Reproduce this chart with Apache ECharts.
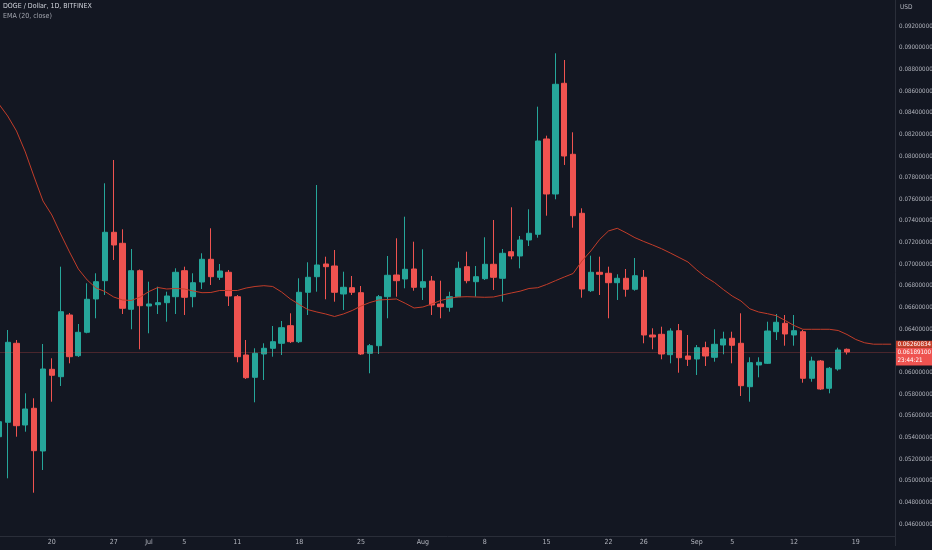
<!DOCTYPE html>
<html>
<head>
<meta charset="utf-8">
<script src="https://cdn.jsdelivr.net/npm/echarts@6/dist/echarts.min.js"></script>
<style>
html,body{margin:0;padding:0;background:#131722;overflow:hidden;}
#chart{width:932px;height:550px;}
</style>
</head>
<body>
<div id="chart"></div>
<script>
// ---- data (DOGE / Dollar, 1D, BITFINEX) ----
const categories = [
'2022-06-14','2022-06-15','2022-06-16','2022-06-17','2022-06-18','2022-06-19','2022-06-20','2022-06-21','2022-06-22','2022-06-23',
'2022-06-24','2022-06-25','2022-06-26','2022-06-27','2022-06-28','2022-06-29','2022-06-30','2022-07-01','2022-07-02','2022-07-03',
'2022-07-04','2022-07-05','2022-07-06','2022-07-07','2022-07-08','2022-07-09','2022-07-10','2022-07-11','2022-07-12','2022-07-13',
'2022-07-14','2022-07-15','2022-07-16','2022-07-17','2022-07-18','2022-07-19','2022-07-20','2022-07-21','2022-07-22','2022-07-23',
'2022-07-24','2022-07-25','2022-07-26','2022-07-27','2022-07-28','2022-07-29','2022-07-30','2022-07-31','2022-08-01','2022-08-02',
'2022-08-03','2022-08-04','2022-08-05','2022-08-06','2022-08-07','2022-08-08','2022-08-09','2022-08-10','2022-08-11','2022-08-12',
'2022-08-13','2022-08-14','2022-08-15','2022-08-16','2022-08-17','2022-08-18','2022-08-19','2022-08-20','2022-08-21','2022-08-22',
'2022-08-23','2022-08-24','2022-08-25','2022-08-26','2022-08-27','2022-08-28','2022-08-29','2022-08-30','2022-08-31','2022-09-01',
'2022-09-02','2022-09-03','2022-09-04','2022-09-05','2022-09-06','2022-09-07','2022-09-08','2022-09-09','2022-09-10','2022-09-11',
'2022-09-12','2022-09-13','2022-09-14','2022-09-15','2022-09-16','2022-09-17','2022-09-18','2022-09-19','2022-09-20','2022-09-21',
'2022-09-22','2022-09-23'
];

const opens = [
0.054063,0.055394,0.062691,0.055144,0.056687,0.052743,0.060289,0.059606,0.065305,0.061546,
0.063707,0.066783,0.068473,0.072944,0.071928,0.065832,0.069397,0.066136,0.066256,0.066441,
0.066995,0.069397,0.066995,0.068353,0.070450,0.068787,0.069249,0.066995,0.061610,0.059550,
0.061703,0.062229,0.062691,0.064317,0.062839,0.067402,0.068843,0.070016,0.069831,0.067245,
0.067827,0.067365,0.061767,0.062469,0.066995,0.069000,0.068630,0.069554,0.067864,0.068446,
0.066321,0.066016,0.066995,0.069767,0.068381,0.068658,0.069988,0.068695,0.071152,0.070755,
0.072233,0.072759,0.081562,0.076482,0.086707,0.080149,0.074699,0.067550,0.069249,0.069157,
0.068289,0.068695,0.067679,0.068787,0.063458,0.063522,0.061638,0.063855,0.061518,0.061241,
0.062285,0.061398,0.062534,0.063153,0.062691,0.058682,0.060687,0.060843,0.063763,0.064538,
0.063458,0.063763,0.059458,0.061056,0.058534,0.060317,0.062137
];

const closes = [
0.055449,0.062783,0.055080,0.056622,0.052770,0.060317,0.059735,0.065610,0.061453,0.063707,
0.066755,0.068381,0.072944,0.071771,0.065924,0.069397,0.066164,0.066321,0.066441,0.067060,
0.069249,0.066940,0.068289,0.070450,0.068843,0.069369,0.067060,0.061453,0.059514,0.061767,
0.062229,0.062839,0.064132,0.062839,0.067402,0.068787,0.069924,0.069767,0.067402,0.067864,
0.067402,0.061703,0.062469,0.066995,0.068972,0.068473,0.069526,0.067864,0.068381,0.066229,
0.066072,0.066995,0.069618,0.068473,0.068843,0.069988,0.068787,0.071004,0.070755,0.072233,
0.072852,0.081377,0.076482,0.086615,0.079992,0.074477,0.067707,0.069249,0.069065,0.068289,
0.068695,0.067679,0.068935,0.063458,0.063273,0.061703,0.063827,0.061360,0.061213,0.062285,
0.061518,0.062599,0.063088,0.062506,0.058775,0.060899,0.060936,0.063827,0.064631,0.063550,
0.063855,0.059458,0.061056,0.058470,0.060382,0.062072,0.061891
];

const lows = [
0.053205,0.050221,0.054063,0.054525,0.048891,0.050988,0.057297,0.058747,0.060843,0.061426,
0.063615,0.065000,0.067152,0.070385,0.065397,0.063984,0.062137,0.063615,0.065397,0.064686,
0.065397,0.065305,0.066016,0.067707,0.068076,0.068538,0.066136,0.060936,0.059393,0.057241,
0.059301,0.061453,0.061610,0.062719,0.062719,0.065305,0.067457,0.066755,0.066534,0.065767,
0.067152,0.061610,0.059920,0.061703,0.065000,0.066995,0.067771,0.067550,0.066691,0.065305,
0.065000,0.065610,0.067032,0.068233,0.066995,0.068538,0.067614,0.066534,0.070450,0.069618,
0.071679,0.072445,0.074477,0.075992,0.079161,0.073369,0.066903,0.067430,0.067152,0.065000,
0.066691,0.066995,0.067550,0.062691,0.062137,0.061213,0.060843,0.059975,0.060594,0.059763,
0.060594,0.060992,0.061675,0.060843,0.057823,0.057297,0.059550,0.060779,0.062996,0.062469,
0.062469,0.059051,0.059144,0.058377,0.058072,0.060160,0.061656
];

const highs = [
0.056345,0.063920,0.062996,0.058072,0.057610,0.062626,0.061305,0.069767,0.065490,0.064474,
0.068233,0.069157,0.077470,0.079622,0.073221,0.071401,0.069508,0.068381,0.067919,0.067457,
0.069618,0.069767,0.069157,0.071004,0.073314,0.070016,0.069462,0.067152,0.062996,0.062229,
0.062691,0.064289,0.064751,0.065462,0.068695,0.070173,0.077313,0.070690,0.071309,0.069305,
0.068907,0.067984,0.062626,0.067152,0.070755,0.072390,0.074385,0.072076,0.071374,0.068907,
0.068473,0.067457,0.070228,0.071152,0.069831,0.072482,0.074080,0.071401,0.075253,0.072602,
0.075069,0.084546,0.081867,0.089478,0.088859,0.082181,0.075161,0.070783,0.070690,0.069767,
0.069065,0.069554,0.070570,0.069462,0.064077,0.064224,0.064077,0.064474,0.063458,0.062534,
0.062839,0.063984,0.063763,0.063763,0.065462,0.061398,0.061398,0.064686,0.065397,0.065305,
0.065305,0.063920,0.061453,0.061148,0.060502,0.062285,0.062211
];

// EMA (20, close)
const emaValues = [
0.084795,0.083687,0.082301,0.080361,0.078052,0.075835,0.074542,0.072787,0.071124,0.069554,
0.068538,0.067799,0.067476,0.066968,0.066691,0.066644,0.066968,0.067476,0.067845,0.067707,
0.067753,0.067707,0.067522,0.067365,0.067383,0.067568,0.067568,0.067568,0.067799,0.067938,
0.068011,0.067938,0.067430,0.066783,0.066275,0.065795,0.065582,0.065397,0.065167,0.065397,
0.065721,0.066136,0.066460,0.066691,0.066737,0.066783,0.066386,0.065952,0.066044,0.066321,
0.066644,0.066848,0.066968,0.066995,0.066968,0.066940,0.066968,0.067152,0.067337,0.067504,
0.067753,0.067827,0.068122,0.068473,0.068815,0.069138,0.070293,0.071217,0.072279,0.073064,
0.073314,0.072898,0.072445,0.072094,0.071771,0.071429,0.071032,0.070616,0.070201,0.069462,
0.068815,0.068307,0.067661,0.067060,0.066598,0.065878,0.065582,0.065425,0.065240,0.064797,
0.064335,0.063984,0.063984,0.063984,0.063984,0.063873,0.063504,0.063042,0.062737,0.062608,
0.062608,0.062608
];

const tickDates  = ['2022-06-20','2022-06-27','2022-07-01','2022-07-05','2022-07-11','2022-07-18','2022-07-25','2022-08-01','2022-08-08','2022-08-15','2022-08-22','2022-08-26','2022-09-01','2022-09-05','2022-09-12','2022-09-19'];
const tickLabels = ['20','27','Jul','5','11','18','25','Aug','8','15','22','26','Sep','5','12','19'];

const lastPrice = 0.061891;
const lastPriceText = '0.06189100';
const countdownText = '23:44:21';
const emaLast = 0.06260834;
const emaLastText = '0.06260834';

const titleText = 'DOGE / Dollar, 1D, BITFINEX';
const indicatorText = 'EMA (20, close)';
const currencyText = 'USD';

// ---- chart ----
const UP = '#26a69a', DOWN = '#ef5350', EMA_COLOR = '#c23d2a';
const FONT = '"Liberation Sans Narrow","DejaVu Sans Condensed","Liberation Sans",sans-serif';
const TXT = '#b2b5be';
const PF = 6.2; // price scale font size
const HIDDEN_LINE = {color: 'rgba(0,0,0,0)', width: 1, type: 'solid', opacity: 1};

const candleData = opens.map((o, i) => [o, closes[i], lows[i], highs[i]]);

const chart = echarts.init(document.getElementById('chart'), null, {renderer: 'canvas'});
chart.setOption({
  animation: false,
  backgroundColor: '#131722',
  textStyle: {fontFamily: FONT},
  title: [
    {text: titleText, left: 3, top: 3, padding: 0,
     textStyle: {color: '#d1d4dc', fontSize: 7, fontWeight: 'normal', fontFamily: FONT}},
    {text: indicatorText, left: 3, top: 12.5, padding: 0,
     textStyle: {color: '#a3a6af', fontSize: 7, fontWeight: 'normal', fontFamily: FONT}},
    {text: currencyText, left: 900, top: 3.5, padding: 0,
     textStyle: {color: TXT, fontSize: 6.5, fontWeight: 'normal', fontFamily: FONT}}
  ],
  grid: {left: -5.6, right: 36.4, top: 0, bottom: 4.35, containLabel: false, outerBoundsMode: 'none'},
  xAxis: {
    type: 'category',
    data: categories,
    boundaryGap: true,
    offset: -9.65,
    axisLine: {show: true, lineStyle: {color: '#2a2e39', width: 1}},
    axisTick: {show: false},
    splitLine: {show: false},
    axisLabel: {
      interval: (idx, val) => tickDates.indexOf(val) >= 0,
      formatter: val => { const k = tickDates.indexOf(val); return k >= 0 ? tickLabels[k] : ''; },
      color: TXT, fontSize: 7, margin: 3, fontFamily: FONT, hideOverlap: false
    }
  },
  yAxis: {
    type: 'value',
    position: 'right',
    min: 0.044,
    max: 0.0944,
    interval: 0.002,
    scale: true,
    axisLine: {show: true, lineStyle: {color: '#2a2e39', width: 1}},
    axisTick: {show: false},
    splitLine: {show: false},
    axisLabel: {
      color: TXT, fontSize: PF, margin: 3.5, align: 'left', fontFamily: FONT,
      showMinLabel: true, showMaxLabel: true,
      formatter: v => {
        if (v < 0.0455 || v > 0.0925) return '';
        if (Math.abs(v - 0.062) < 1e-7) return '';
        return v.toFixed(8);
      }
    }
  },
  series: [
    {
      type: 'candlestick',
      data: candleData,
      barWidth: 5.8,
      itemStyle: {color: UP, color0: DOWN, borderColor: UP, borderColor0: DOWN, borderWidth: 1},
      markLine: {
        silent: true,
        precision: 10,
        symbol: ['none', 'none'],
        animation: false,
        data: [
          {yAxis: lastPrice,
           lineStyle: HIDDEN_LINE,
           label: {show: true, opacity: 1, position: 'end', distance: 0.4, formatter: countdownText,
                   verticalAlign: 'top', align: 'left', width: 33, overflow: 'none',
                   backgroundColor: DOWN, color: '#ffffff', fontSize: PF, lineHeight: 8,
                   padding: [4.5, 1.5, 1, 1.5], fontFamily: FONT}},
          {yAxis: lastPrice,
           lineStyle: {color: 'rgba(239,83,80,0.25)', width: 1, type: 'solid'},
           label: {show: true, opacity: 1, position: 'end', distance: 0.4, formatter: lastPriceText,
                   verticalAlign: 'middle', align: 'left', width: 33, overflow: 'none',
                   backgroundColor: DOWN, color: '#ffffff', fontSize: PF, lineHeight: 8,
                   padding: [0.5, 1.5, 0.5, 1.5], fontFamily: FONT}}
        ]
      }
    },
    {
      type: 'line',
      data: emaValues,
      symbol: 'none',
      smooth: false,
      lineStyle: {color: EMA_COLOR, width: 1},
      z: 3,
      markLine: {
        silent: true,
        precision: 10,
        symbol: ['none', 'none'],
        animation: false,
        data: [
          {yAxis: emaLast,
           lineStyle: HIDDEN_LINE,
           label: {show: true, opacity: 1, position: 'end', distance: 0.4, formatter: emaLastText,
                   verticalAlign: 'middle', align: 'left', width: 33, overflow: 'none',
                   backgroundColor: '#c63f2a', color: '#ffffff', fontSize: PF, lineHeight: 7,
                   padding: [0, 1.5, 0, 1.5], fontFamily: FONT}}
        ]
      }
    }
  ]
});
</script>
</body>
</html>
